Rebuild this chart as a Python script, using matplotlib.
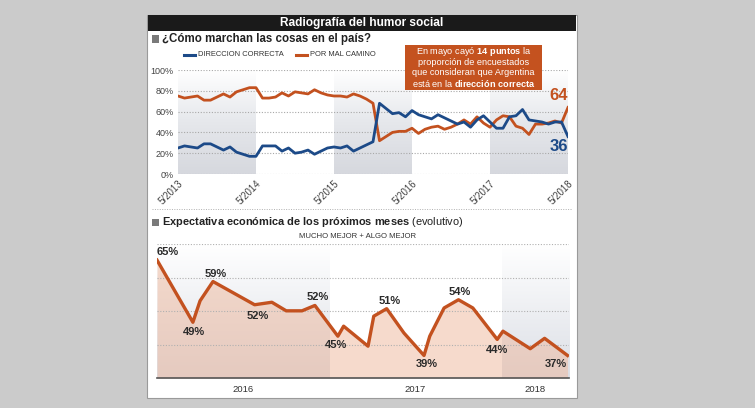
import matplotlib.pyplot as plt
import numpy as np
from matplotlib.colors import LinearSegmentedColormap
from matplotlib.patches import Rectangle
from matplotlib.lines import Line2D
import matplotlib.transforms as mtransforms

plt.rcParams['font.family'] = ['Liberation Sans', 'DejaVu Sans']
plt.rcParams['mathtext.fontset'] = 'custom'
plt.rcParams['mathtext.rm'] = 'Liberation Sans'
plt.rcParams['mathtext.bf'] = 'Liberation Sans:bold'

# ---- data: ¿Cómo marchan las cosas? (monthly, 5/2013 .. 5/2018)
top_ticks = ['5/2013', '5/2014', '5/2015', '5/2016', '5/2017', '5/2018']
correcta = [25, 27, 26, 25, 29, 29, 26, 23, 26, 21, 19, 17, 17,
            27, 27, 27, 22, 25, 20, 21, 23, 19, 22, 25, 26,
            25, 27, 22, 25, 28, 31, 68, 63, 58, 59, 55, 61,
            57, 55, 53, 57, 54, 51, 48, 50, 45, 52, 56, 50,
            44, 44, 55, 56, 62, 52, 51, 50, 48, 50, 50, 36]
mal_camino = [75, 73, 74, 75, 71, 71, 74, 77, 74, 79, 81, 83, 83,
              73, 73, 74, 78, 75, 79, 78, 77, 81, 78, 76, 75,
              75, 74, 77, 75, 72, 68, 32, 36, 40, 41, 41, 44,
              39, 43, 45, 46, 43, 45, 48, 52, 48, 55, 49, 45,
              52, 56, 55, 46, 44, 38, 48, 48, 49, 51, 49, 64]

# ---- data: Expectativa económica (months since start of 2016)
exp_x = [0, 2.5, 3.0, 3.9, 6.8, 8.0, 9.0, 10.1, 11.0, 12.6, 13.0, 14.7, 15.1,
         16.0, 17.2, 18.6, 19.0, 20.0, 21.0, 22.0, 23.7, 24.1, 26.0, 27.0, 28.6]
exp_vals = [65, 47.6, 53.6, 59, 52.5, 53.2, 50.8, 50.8, 52.3, 43.7, 46.5, 40.9, 49.3,
            51.4, 44.6, 38.3, 43.7, 51.6, 53.9, 51.6, 42.8, 45.1, 40.2, 43.1, 38.3]
# (point index, label, dx px, dy px)
exp_labels = [(0, '65%', 11, 8), (1, '49%', 1, -10), (3, '59%', 3, 8), (4, '52%', 3, -11),
              (8, '52%', 3, 8), (9, '45%', -2, -9), (13, '51%', 3, 8), (15, '39%', 3, -9),
              (18, '54%', 1, 8), (20, '44%', 0, -11), (24, '37%', -12, -9)]
years = ['2016', '2017', '2018']
year_pos = [6, 18, 26.35]

BLUE = '#1c4a88'
ORANGE = '#c3511f'
W, H = 755, 408

def fx(x):
    return x / W

def fy(y):
    return 1 - y / H

fig = plt.figure(figsize=(7.55, 4.08), dpi=100, facecolor='#cbcbcb')

# panel and title bar
fig.patches.append(Rectangle((fx(147), fy(398)), fx(577) - fx(147), fy(15) - fy(398),
                             transform=fig.transFigure, facecolor='white',
                             edgecolor='#9a9a9a', lw=0.8, zorder=-2))
fig.patches.append(Rectangle((fx(148), fy(31)), fx(576) - fx(148), fy(15) - fy(31),
                             transform=fig.transFigure, facecolor='#1a1a1a', lw=0, zorder=1))
fig.text(fx(362), fy(23), 'Radiografía del humor social', color='white', fontsize=8.6,
         fontweight='bold', ha='center', va='center')

# headings
for yy in (39, 222):
    fig.patches.append(Rectangle((fx(152), fy(yy + 3.5)), 7 / W, 7 / H, transform=fig.transFigure,
                                 facecolor='#7a7a7a', lw=0, zorder=2))
fig.text(fx(162), fy(39), '¿Cómo marchan las cosas en el país?', fontsize=8.3,
         fontweight='bold', color='#222222', ha='left', va='center')
fig.text(fx(162), fy(222), r'Expectativa económica de los próximos meses $\mathrm{(evolutivo)}$',
         fontsize=7.9, fontweight='bold', color='#222222', ha='left', va='center')
fig.text(fx(358), fy(236), 'MUCHO MEJOR + ALGO MEJOR', fontsize=5.6, color='#333333',
         ha='center', va='center')

# legend
fig.lines.append(Line2D([fx(184), fx(195)], [fy(55), fy(55)], color=BLUE, lw=2.2,
                        transform=fig.transFigure))
fig.text(fx(198), fy(55), 'DIRECCION CORRECTA', fontsize=5.4, color='#333333', va='center')
fig.lines.append(Line2D([fx(296), fx(307)], [fy(55), fy(55)], color=ORANGE, lw=2.2,
                        transform=fig.transFigure))
fig.text(fx(310), fy(55), 'POR MAL CAMINO', fontsize=5.4, color='#333333', va='center')

# separator
fig.lines.append(Line2D([fx(152), fx(572)], [fy(209), fy(209)], color='#b0b0b0', lw=0.7,
                        ls=(0, (1, 1.5)), transform=fig.transFigure))

# ---------------- top chart
grey_cmap = LinearSegmentedColormap.from_list('g', ['#d6d8de', '#e6e8ec', '#ffffff'])
grad = np.linspace(0, 1, 100).reshape(-1, 1)

ax1 = fig.add_axes([fx(178), fy(174), fx(568) - fx(178), fy(70) - fy(174)])
months = np.arange(len(correcta))
for x0 in (0, 24, 48):
    ax1.imshow(grad, extent=[x0, x0 + 12, 0, 100], origin='lower', aspect='auto',
               cmap=grey_cmap, zorder=0)
ax1.plot(months, mal_camino, color=ORANGE, lw=2, zorder=3, solid_joinstyle='round')
ax1.plot(months, correcta, color=BLUE, lw=2, zorder=4, solid_joinstyle='round')
ax1.set_xlim(0, 60)
ax1.set_ylim(0, 100)
ax1.set_yticks([0, 20, 40, 60, 80, 100])
ax1.set_yticklabels(['0%', '20%', '40%', '60%', '80%', '100%'])
ax1.set_xticks([0, 12, 24, 36, 48, 60])
ax1.set_xticklabels(top_ticks, rotation=45, ha='right', va='top', rotation_mode='anchor')
offset = mtransforms.ScaledTranslation(6 / 100, 0, fig.dpi_scale_trans)
for lab in ax1.get_xticklabels():
    lab.set_transform(lab.get_transform() + offset)
ax1.tick_params(axis='y', length=0, labelsize=6.5, colors='#444444', pad=3)
ax1.tick_params(axis='x', length=0, labelsize=7, colors='#444444', pad=3)
ax1.grid(axis='y', color='#a8a8a8', lw=0.8, ls=(0, (1, 1.5)))
ax1.set_axisbelow(False)
for s in ax1.spines.values():
    s.set_visible(False)
ax1.set_facecolor('none')
ax1.text(60, mal_camino[-1] + 11, str(mal_camino[-1]), color=ORANGE, fontsize=12,
         fontweight='bold', ha='right', va='center', zorder=6)
ax1.text(60, correcta[-1] - 10, str(correcta[-1]), color=BLUE, fontsize=12,
         fontweight='bold', ha='right', va='center', zorder=6)

# annotation box
fig.patches.append(Rectangle((fx(405), fy(90)), fx(542) - fx(405), fy(45) - fy(90),
                             transform=fig.transFigure, facecolor='#c4521f', lw=0, zorder=5))
box_lines = [r'En mayo cayó $\mathbf{14\ puntos}$ la', 'proporción de encuestados',
             'que consideran que Argentina', r'está en la $\mathbf{dirección\ correcta}$']
for i, t in enumerate(box_lines):
    fig.text(fx(473.5), fy(51.5 + i * 10.7), t, color='white', fontsize=6.6,
             ha='center', va='center', zorder=6)

# ---------------- bottom chart
ax2 = fig.add_axes([fx(157), fy(378), fx(569) - fx(157), fy(244) - fy(378)])
ymin, ymax = 32, 69.5
grey2 = LinearSegmentedColormap.from_list('g2', ['#dcdfe6', '#ffffff'])
for x0, x1 in ((0, 12), (24, 28.7)):
    ax2.imshow(grad, extent=[x0, x1, ymin, ymax], origin='lower', aspect='auto',
               cmap=grey2, zorder=0)
ax2.fill_between(exp_x, ymin, exp_vals, color='#eeb79b', alpha=0.5, lw=0, zorder=1)
ax2.plot(exp_x, exp_vals, color=ORANGE, lw=2.4, zorder=4, solid_joinstyle='round')
for idx, txt, dx, dy in exp_labels:
    ax2.annotate(txt, (exp_x[idx], exp_vals[idx]), xytext=(dx * 0.72, dy * 0.72),
                 textcoords='offset points', ha='center', va='center', fontsize=8,
                 fontweight='bold', color='#2a2a2a', zorder=6)
ax2.set_xlim(0, 28.7)
ax2.set_ylim(ymin, ymax)
ax2.set_yticks(np.linspace(ymin, ymax, 5)[1:])
ax2.set_yticklabels([])
ax2.set_xticks(year_pos)
ax2.set_xticklabels(years)
ax2.tick_params(axis='both', length=0, labelsize=6.8, colors='#333333', pad=5)
ax2.grid(axis='y', color='#b0b0b0', lw=0.8, ls=(0, (1, 1.5)))
ax2.set_axisbelow(False)
for s in ('top', 'left', 'right'):
    ax2.spines[s].set_visible(False)
ax2.spines['bottom'].set_color('#555555')
ax2.spines['bottom'].set_linewidth(1.2)
ax2.set_facecolor('none')

fig.savefig('out.png', dpi=100, facecolor=fig.get_facecolor())
